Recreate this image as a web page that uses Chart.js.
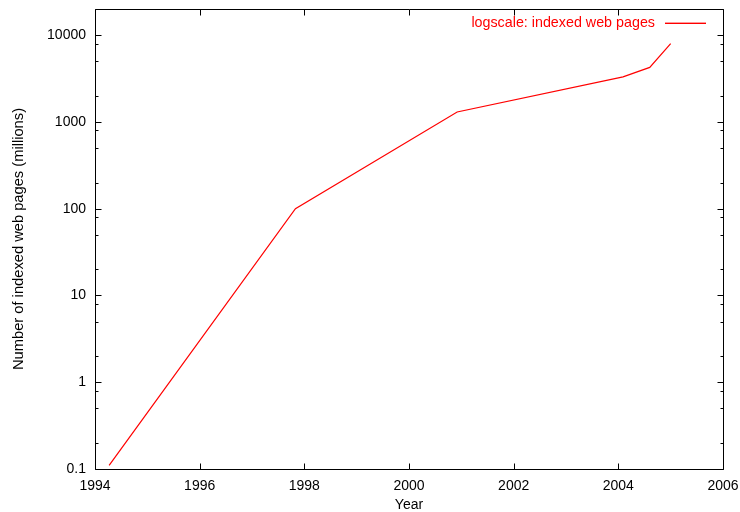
<!DOCTYPE html>
<html>
<head>
<meta charset="utf-8">
<script src="https://cdn.jsdelivr.net/npm/chart.js@4.4.1/dist/chart.umd.min.js"></script>
<style>
  html, body { margin: 0; padding: 0; background: #fff; }
  #wrap { width: 740px; height: 512px; }
</style>
</head>
<body>
<div id="wrap"><canvas id="chart" width="740" height="512"></canvas></div>
<script>
// data
const years = [1994.27, 1997.83, 2000.92, 2004.09, 2004.6, 2005.0];
const pages = [0.11, 100, 1300, 3300, 4250, 8000];
const seriesLabel = 'logscale: indexed web pages';

const xTicks = [1994, 1996, 1998, 2000, 2002, 2004, 2006];
const yTicks = [0.1, 1, 10, 100, 1000, 10000];
const yMinorSteps = [2, 5, 8];

const FONT = 'Liberation Sans, Arial, Helvetica, sans-serif';

// axes box, ticks pointing inward and mirrored like gnuplot
const frame = {
  id: 'frame',
  afterDraw(chart) {
    const { ctx, chartArea: a, scales } = chart;
    const x = scales.x, y = scales.y;
    const L = Math.round(a.left) + 0.5, R = Math.round(a.right) + 0.5;
    const T = Math.round(a.top) + 0.5, B = Math.round(a.bottom) + 0.5;
    ctx.save();
    ctx.strokeStyle = '#000';
    ctx.lineWidth = 1;
    ctx.beginPath();
    ctx.rect(L, T, R - L, B - T);

    xTicks.forEach(v => {
      const px = Math.round(x.getPixelForValue(v)) + 0.5;
      ctx.moveTo(px, B); ctx.lineTo(px, B - 6);
      ctx.moveTo(px, T); ctx.lineTo(px, T + 6);
    });

    const tick = (v, len) => {
      const py = Math.round(y.getPixelForValue(v)) + 0.5;
      if (py < T || py > B) return;
      ctx.moveTo(L, py); ctx.lineTo(L + len, py);
      ctx.moveTo(R, py); ctx.lineTo(R - len, py);
    };
    yTicks.forEach(v => {
      tick(v, 6);
      yMinorSteps.forEach(m => tick(v * m, 3));
    });
    ctx.stroke();

    // key, top right inside the box
    ctx.font = '14.3px ' + FONT;
    ctx.fillStyle = '#ff0000';
    ctx.textAlign = 'right';
    ctx.textBaseline = 'middle';
    ctx.fillText(seriesLabel, 655, 23);
    ctx.fillRect(665, 22.6, 41, 1.4);
    ctx.restore();
  }
};

new Chart(document.getElementById('chart'), {
  type: 'line',
  data: {
    datasets: [{
      label: seriesLabel,
      data: years.map((yr, i) => ({ x: yr, y: pages[i] })),
      borderColor: '#ff0000',
      borderWidth: 1.2,
      pointRadius: 0,
      tension: 0,
      fill: false
    }]
  },
  options: {
    responsive: false,
    animation: false,
    layout: { padding: { top: 9, right: 17, left: 0, bottom: 0 } },
    plugins: {
      legend: { display: false },
      tooltip: { enabled: false }
    },
    scales: {
      x: {
        type: 'linear',
        min: 1994,
        max: 2006,
        afterBuildTicks: s => { s.ticks = xTicks.map(v => ({ value: v })); },
        afterFit: s => { s.height = 43; s.paddingLeft = 0; s.paddingRight = 0; },
        grid: { display: false, drawTicks: false },
        border: { display: false },
        ticks: {
          color: '#000',
          padding: 9,
          maxRotation: 0,
          font: { family: FONT, size: 14 },
          callback: v => String(v)
        },
        title: {
          display: true,
          text: 'Year',
          color: '#000',
          padding: { top: 0, bottom: -2 },
          font: { family: FONT, size: 14 }
        }
      },
      y: {
        type: 'logarithmic',
        min: 0.1,
        max: 20000,
        afterBuildTicks: s => { s.ticks = yTicks.map(v => ({ value: v })); },
        afterFit: s => { s.width = 95; s.paddingTop = 0; s.paddingBottom = 0; },
        grid: { display: false, drawTicks: false },
        border: { display: false },
        ticks: {
          color: '#000',
          padding: 9,
          font: { family: FONT, size: 14 },
          callback: v => String(v)
        },
        title: {
          display: true,
          text: 'Number of indexed web pages (millions)',
          color: '#000',
          padding: { top: 10, bottom: 0 },
          font: { family: FONT, size: 14.7 }
        }
      }
    }
  },
  plugins: [frame]
});
</script>
</body>
</html>
